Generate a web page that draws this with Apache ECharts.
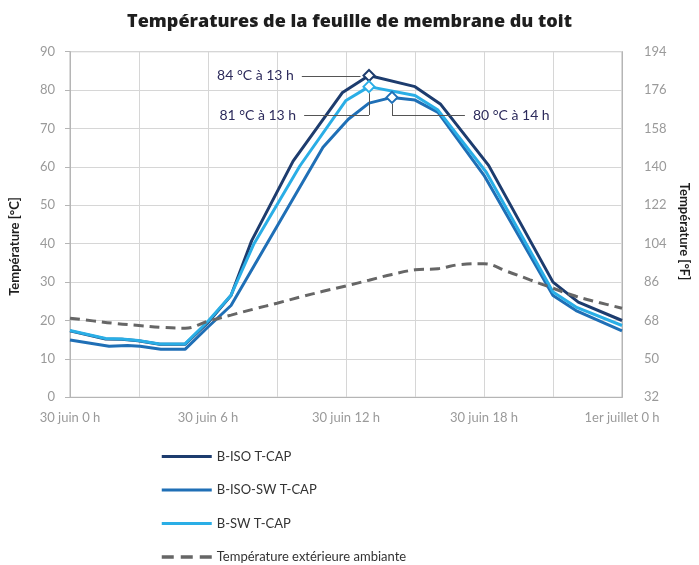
<!DOCTYPE html>
<html>
<head>
<meta charset="utf-8">
<script src="https://cdn.jsdelivr.net/npm/echarts@6/dist/echarts.min.js"></script>
<style>
  html, body { margin: 0; padding: 0; background: #fff; }
  #chart { width: 699px; height: 565px; }
</style>
</head>
<body>
<div id="chart"></div>
<script>
// ── Data (hours since 30 juin 0 h, °C) ─────────────────────────────
const xTickLabels = ['30 juin 0 h', '30 juin 6 h', '30 juin 12 h', '30 juin 18 h', '1er juillet 0 h']
const seriesNames = ['B-ISO T-CAP', 'B-ISO-SW T-CAP', 'B-SW T-CAP', 'Température extérieure ambiante']

const bIso = [
  [0, 17.3], [1.55, 15.2], [2.25, 15.1], [2.96, 14.7], [3.9, 13.8], [5, 13.8], [6, 19.5],
  [7, 26.5], [7.9, 40.8], [9.7, 61.5], [11.85, 79.4], [13, 83.8], [15, 80.9], [16.1, 76.4],
  [18.2, 60.4], [21, 30.0], [22.1, 24.8], [24, 20.0]
]
const bIsoSw = [
  [0, 14.9], [1.7, 13.3], [2.5, 13.5], [3.05, 13.3], [3.95, 12.5], [5, 12.5], [6, 18.3],
  [7, 23.9], [11, 65.1], [12.1, 72.4], [13, 76.6], [14, 78.1], [15, 77.4], [16, 74.2],
  [18, 57.8], [21, 26.5], [22, 22.6], [24, 17.3]
]
const bSw = [
  [0, 17.4], [1.55, 15.3], [2.25, 15.2], [2.96, 14.8], [3.9, 13.9], [5, 13.9], [6, 19.8],
  [7, 26.6], [8, 40.0], [10, 60.3], [12, 77.3], [13, 80.9], [15, 78.6], [16, 74.8],
  [18.1, 58.6], [21, 27.4], [22, 23.5], [24, 18.7]
]
const ambient = [
  [0, 20.6], [1, 19.9], [2, 19.2], [3, 18.7], [4, 18.2], [5, 18.0], [6, 19.8], [7, 21.4],
  [8, 23.0], [9, 24.5], [10, 26.1], [11, 27.6], [12, 29.0], [13, 30.5], [14, 32.0],
  [15, 33.2], [16, 33.5], [17, 34.6], [18, 34.8], [19, 32.8], [20, 30.6], [21, 28.4],
  [22, 26.3], [23, 24.7], [24, 23.2]
]

// peak annotations: [hour, °C] of the marker and the label text
const peakIso = [13, 83.8]
const peakSw = [13, 80.9]
const peakIsoSw = [14, 78.1]
const peakLabels = ['84 °C à 13 h', '81 °C à 13 h', '80 °C à 14 h']

// ── Style ──────────────────────────────────────────────────────────
const COLORS = ['#1d3c6e', '#1f6fb6', '#2aaee6', '#666666']
const FONT = 'Lato, "Open Sans", sans-serif'
const NOTE = '#2d2b5c'
const LEADER = '#555555'

function marker(coord, color) {
  return {
    symbol: 'diamond',
    symbolSize: 11,
    silent: true,
    label: { show: false },
    itemStyle: { color: '#ffffff', borderColor: color, borderWidth: 2 },
    data: [{ coord }]
  }
}

function leaders(segments) {
  return {
    silent: true,
    symbol: ['none', 'none'],
    animation: false,
    lineStyle: { color: LEADER, width: 1, type: 'solid' },
    label: { show: false },
    emphasis: { disabled: true },
    data: segments
  }
}

function noteLabel(text, position) {
  return {
    show: true,
    position,
    distance: 8,
    formatter: text,
    color: NOTE,
    fontFamily: FONT,
    fontSize: 14
  }
}

const chart = echarts.init(document.getElementById('chart'), null, { renderer: 'canvas' })

chart.setOption({
  animation: false,
  backgroundColor: '#fff',
  textStyle: { fontFamily: FONT },
  title: {
    text: 'Températures de la feuille de membrane du toit',
    left: 'center',
    top: 8,
    textStyle: { fontFamily: '"Open Sans", Lato, sans-serif', fontSize: 18, fontWeight: 800, color: '#1e1e1e' }
  },
  grid: {
    left: 67.7, right: 71.7, top: 51.7, bottom: 167.7,
    show: true, borderColor: '#b5b5b5', borderWidth: 1, backgroundColor: 'transparent'
  },
  legend: {
    orient: 'vertical',
    left: 160,
    top: 450,
    padding: 0,
    height: 120,
    itemWidth: 50,
    itemHeight: 14,
    itemGap: 20.5,
    data: [
      { name: seriesNames[0], lineStyle: { width: 3 } },
      { name: seriesNames[1], lineStyle: { width: 3 } },
      { name: seriesNames[2], lineStyle: { width: 3 } },
      { name: seriesNames[3], lineStyle: { width: 3.5, type: [12, 7] } }
    ],
    itemStyle: { opacity: 0 },
    textStyle: { fontFamily: FONT, fontSize: 13, color: '#333' }
  },
  xAxis: {
    type: 'value',
    min: 0, max: 24, interval: 3,
    axisLine: { show: true, lineStyle: { color: '#b5b5b5' } },
    axisTick: { show: false },
    splitLine: { show: true, lineStyle: { color: '#d6d6d6' } },
    axisLabel: {
      margin: 14,
      color: '#9a9a9a',
      fontSize: 13,
      fontFamily: FONT,
      formatter: v => (v % 6 === 0 ? xTickLabels[v / 6] : '')
    }
  },
  yAxis: [
    {
      type: 'value',
      min: 0, max: 90, interval: 10,
      name: 'Température [°C]',
      nameLocation: 'middle',
      nameGap: 49,
      nameTextStyle: {
        fontFamily: FONT, fontSize: 13, fontWeight: 'bold', color: '#1e1e1e',
        padding: [0, 44, 0, 0]
      },
      axisLine: { show: true, lineStyle: { color: '#b5b5b5' } },
      axisTick: { show: true, length: 5, lineStyle: { color: '#b5b5b5' } },
      splitLine: { show: true, lineStyle: { color: '#d6d6d6' } },
      axisLabel: { margin: 15, color: '#9a9a9a', fontSize: 13, fontFamily: FONT }
    },
    {
      type: 'value',
      position: 'right',
      min: 0, max: 90, interval: 10,
      name: 'Température [°F]',
      nameLocation: 'middle',
      nameGap: 56,
      nameRotate: -90,
      nameTextStyle: {
        fontFamily: FONT, fontSize: 13, fontWeight: 'bold', color: '#1e1e1e',
        padding: [0, 0, 0, 14]
      },
      axisLine: { show: true, lineStyle: { color: '#b5b5b5' } },
      axisTick: { show: false },
      splitLine: { show: false },
      axisLabel: {
        margin: 22, color: '#9a9a9a', fontSize: 13, fontFamily: FONT,
        formatter: v => String(Math.round(v * 1.8 + 32))
      }
    }
  ],
  series: [
    {
      name: seriesNames[0],
      type: 'line',
      data: bIso,
      symbol: 'none',
      lineStyle: { color: COLORS[0], width: 3 },
      itemStyle: { color: COLORS[0] },
      markPoint: marker(peakIso, COLORS[0]),
      markLine: leaders([
        [{ coord: [10.08, 83.7], label: noteLabel(peakLabels[0], 'start') }, { coord: [12.63, 83.7] }]
      ]),
      z: 2
    },
    {
      name: seriesNames[1],
      type: 'line',
      data: bIsoSw,
      symbol: 'none',
      lineStyle: { color: COLORS[1], width: 3 },
      itemStyle: { color: COLORS[1] },
      markPoint: marker(peakIsoSw, COLORS[1]),
      markLine: leaders([
        [{ coord: [14, 76.4] }, { coord: [14, 73.5] }],
        [{ coord: [14, 73.5] }, { coord: [17.17, 73.5], label: noteLabel(peakLabels[2], 'end') }]
      ]),
      z: 3
    },
    {
      name: seriesNames[2],
      type: 'line',
      data: bSw,
      symbol: 'none',
      lineStyle: { color: COLORS[2], width: 3 },
      itemStyle: { color: COLORS[2] },
      markPoint: marker(peakSw, COLORS[2]),
      markLine: leaders([
        [{ coord: [10.18, 73.5], label: noteLabel(peakLabels[1], 'start') }, { coord: [13, 73.5] }],
        [{ coord: [13, 73.5] }, { coord: [13, 79.2] }]
      ]),
      z: 4
    },
    {
      name: seriesNames[3],
      type: 'line',
      data: ambient,
      symbol: 'none',
      smooth: 0.4,
      lineStyle: { color: COLORS[3], width: 3, type: [10, 6] },
      itemStyle: { color: COLORS[3] },
      z: 5
    }
  ]
})
</script>
</body>
</html>
